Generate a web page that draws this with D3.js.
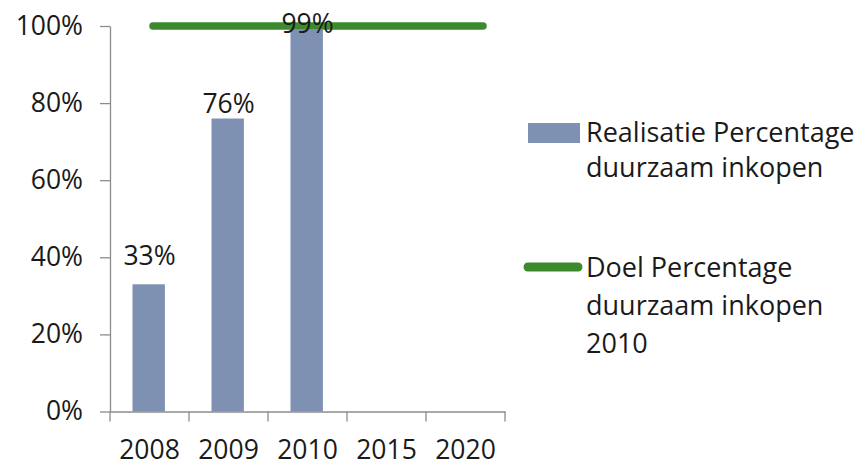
<!DOCTYPE html>
<html>
<head>
<meta charset="utf-8">
<script src="https://cdn.jsdelivr.net/npm/d3@7"></script>
<style>
  body { margin: 0; background: #fff; }
  text { font-family: "Open Sans", Lato, sans-serif; fill: #1a1a1a; font-variant-ligatures: none; }
</style>
</head>
<body>
<div id="chart"></div>
<script>
const years = ['2008', '2009', '2010', '2015', '2020'];
const realisatie = [0.33, 0.76, 0.99, null, null];
const doel = [1, 1, 1, 1, 1];
const yTicks = [0, 0.2, 0.4, 0.6, 0.8, 1];
const legendLabels = [
  ['Realisatie Percentage', 'duurzaam inkopen'],
  ['Doel Percentage', 'duurzaam inkopen', '2010']
];

const width = 864, height = 466;
const margin = {top: 26, right: 359, bottom: 54.5, left: 110};
const cw = width - margin.left - margin.right;
const ch = height - margin.top - margin.bottom;
const barColor = '#7f91b2';
const lineColor = '#3d8a2e';
const axisColor = '#8c8c8c';
const fs = 26.5;
// hand placed label nudges (as in the original chart)
const labelDy = [-19, -6, 3];

const svg = d3.select('#chart').append('svg').attr('width', width).attr('height', height);
const g = svg.append('g').attr('transform', `translate(${margin.left}, ${margin.top})`);

const xScale = d3.scaleBand().domain(years).range([0, cw]);
// the target line sits on its own (secondary) category axis
const xLine = d3.scalePoint().domain(years).range([43, 373]);
const yScale = d3.scaleLinear().domain([0, 1]).range([ch, 0]);
const bw = xScale.bandwidth();

// y axis
const yAxis = g.append('g').attr('class', 'y-axis')
  .call(d3.axisLeft(yScale).tickValues(yTicks).tickSize(10).tickSizeOuter(0).tickPadding(17)
    .tickFormat(d => `${Math.round(d * 100)}%`));
yAxis.selectAll('text').attr('font-size', fs);

// x axis: labels in band centre, ticks on band edges
const xAxis = g.append('g').attr('class', 'x-axis').attr('transform', `translate(0, ${ch})`)
  .call(d3.axisBottom(xScale).tickSize(0).tickPadding(29));
xAxis.selectAll('text').attr('font-size', fs);
xAxis.selectAll('.tick')
  .append('line')
  .attr('x1', -bw / 2).attr('x2', -bw / 2).attr('y1', 0).attr('y2', 10);
xAxis.append('line').attr('class', 'edge')
  .attr('x1', cw).attr('x2', cw).attr('y1', 0).attr('y2', 10);

svg.selectAll('.domain, .tick line, .edge').attr('stroke', axisColor).attr('stroke-width', 1.3);
svg.selectAll('.tick text').attr('fill', '#1a1a1a');

// bars
const barData = years.map((y, i) => ({name: y, value: realisatie[i], i})).filter(d => d.value != null);
const barW = bw * 0.41;
g.selectAll('rect.bar').data(barData).join('rect')
  .attr('class', 'bar')
  .attr('fill', barColor)
  .attr('x', d => xScale(d.name) + (bw - barW) / 2 - 0.8)
  .attr('width', barW)
  .attr('y', d => yScale(d.value))
  .attr('height', d => ch - yScale(d.value));

// target line
const line = d3.line()
  .x(d => xLine(d.name))
  .y(d => yScale(d.value));
g.append('path')
  .datum(years.map((y, i) => ({name: y, value: doel[i]})))
  .attr('fill', 'none')
  .attr('stroke', lineColor)
  .attr('stroke-width', 7.5)
  .attr('stroke-linecap', 'round')
  .attr('d', line);

// value labels
g.selectAll('text.label').data(barData).join('text')
  .attr('class', 'label')
  .attr('text-anchor', 'middle')
  .attr('font-size', fs)
  .attr('x', d => xScale(d.name) + bw / 2)
  .attr('y', d => yScale(d.value) + labelDy[d.i])
  .text(d => `${Math.round(d.value * 100)}%`);

// legend
const legend = svg.append('g').attr('class', 'legend');
const lg1 = legend.append('g').attr('transform', 'translate(528, 123)');
lg1.append('rect').attr('width', 52).attr('height', 20).attr('fill', barColor);
lg1.selectAll('text').data(legendLabels[0]).join('text')
  .attr('x', 58).attr('y', (d, i) => 19 + i * 35)
  .attr('font-size', 27)
  .text(d => d);

const lg2 = legend.append('g').attr('transform', 'translate(528, 267)');
lg2.append('line').attr('x1', 0).attr('x2', 50)
  .attr('stroke', lineColor).attr('stroke-width', 9).attr('stroke-linecap', 'round');
lg2.selectAll('text').data(legendLabels[1]).join('text')
  .attr('x', 58).attr('y', (d, i) => 10 + i * 38)
  .attr('font-size', 27)
  .text(d => d);
</script>
</body>
</html>
